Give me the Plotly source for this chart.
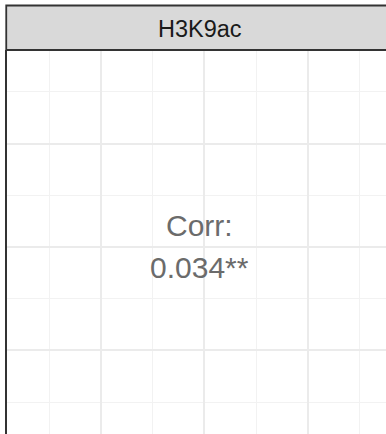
import plotly.graph_objects as go

# Data
strip_title = "H3K9ac"
corr_label = "Corr:"
corr_value = "0.034**"
x_major = [1, 3, 5]
x_minor = [0, 2, 4, 6]
y_major = [1, 3, 5]
y_minor = [0, 2, 4, 6]
x_range = [-0.812, 6.512]
y_range = [-0.619, 6.812]
text_pos = (2.9, 3.0)

W, H = 386, 434
L, T = 7, 50
plot_h = H - T

fig = go.Figure()
fig.add_trace(go.Scatter(x=[text_pos[0]], y=[text_pos[1]], mode="markers",
                         marker=dict(opacity=0), hoverinfo="skip", showlegend=False))

axis_common = dict(showticklabels=False, ticks="", zeroline=False)
fig.update_xaxes(range=x_range, tickvals=x_major, gridcolor="#ebebeb", gridwidth=1.8,
                 minor=dict(tickvals=x_minor, gridcolor="#f2f2f2", gridwidth=1, showgrid=True),
                 showline=False, **axis_common)
fig.update_yaxes(range=y_range, tickvals=y_major, gridcolor="#ebebeb", gridwidth=1.8,
                 minor=dict(tickvals=y_minor, gridcolor="#f2f2f2", gridwidth=1, showgrid=True),
                 showline=True, linecolor="#333333", linewidth=1.7, **axis_common)

font_txt = "Liberation Sans, Arial, sans-serif"
fig.add_annotation(x=text_pos[0], y=text_pos[1], text=corr_label, showarrow=False,
                   yshift=21, font=dict(family=font_txt, size=30, color="#6b6b6b"))
fig.add_annotation(x=text_pos[0], y=text_pos[1], text=corr_value, showarrow=False,
                   yshift=-21, font=dict(family=font_txt, size=30, color="#6b6b6b"))

# strip
fig.add_shape(type="rect", xref="paper", yref="paper", x0=-0.002, x1=1.05,
              y0=1, y1=1 + 44.5 / plot_h, fillcolor="#d9d9d9",
              line=dict(color="#333333", width=1.8), layer="above")
fig.add_annotation(xref="paper", yref="paper", x=(199.5 - L) / (W - L),
                   y=1 + 21 / plot_h, text=strip_title, showarrow=False,
                   xanchor="center", yanchor="middle",
                   font=dict(family=font_txt, size=23.5, color="#1a1a1a"))

fig.update_layout(width=W, height=H, margin=dict(l=L, r=0, t=T, b=0),
                  paper_bgcolor="white", plot_bgcolor="white", showlegend=False,
                  hovermode=False)
fig.write_html("out.html", config={"displayModeBar": False, "staticPlot": True},
               post_script="document.body.style.margin='0';document.body.style.overflow='hidden';")
